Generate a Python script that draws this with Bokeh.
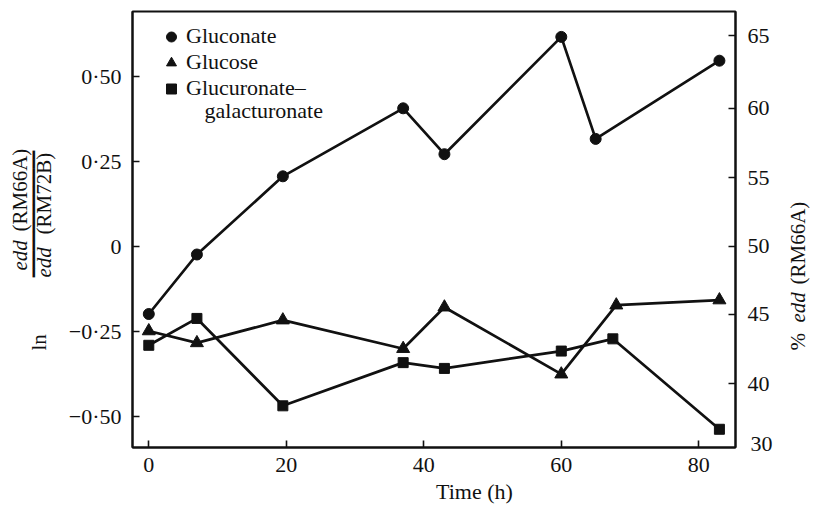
import math
from bokeh.plotting import figure
from bokeh.layouts import row
from bokeh.models import Range1d, LinearAxis, FixedTicker, Label, Legend, LegendItem
from bokeh.embed import file_html
from bokeh.resources import INLINE

# ---------------- data ----------------
time_gluconate = [0, 7, 19.5, 37, 43, 60, 65, 83]
ln_gluconate = [-0.20, -0.025, 0.205, 0.405, 0.27, 0.615, 0.315, 0.545]

time_glucose = [0, 7, 19.5, 37, 43, 60, 68, 83]
ln_glucose = [-0.25, -0.285, -0.218, -0.302, -0.18, -0.377, -0.174, -0.159]

time_glucuronate = [0, 7, 19.5, 37, 43, 60, 67.5, 83]
ln_glucuronate = [-0.292, -0.213, -0.47, -0.343, -0.36, -0.309, -0.273, -0.539]

x_ticks = [0, 20, 40, 60, 80]
y_ticks = [-0.5, -0.25, 0, 0.25, 0.5]
y_tick_labels = ["\u22120\u00b750", "\u22120\u00b725", "0", "0\u00b725", "0\u00b750"]
pct_ticks = [40, 45, 50, 55, 60, 65]
series_names = ["Gluconate", "Glucose", "Glucuronate\u2013"]

# ---------------- layout constants ----------------
FONT = "Liberation Serif"
INK = "#111111"
FS = "22px"
H = 512
LEFT_W, MAIN_W, RIGHT_W = 60, 720, 34

X_START, X_END = -2.37, 85.34
Y_START, Y_END = -0.5926, 0.6897
FR_L, FR_R, FR_T, FR_B = 132.0, 735.0, 11.0, 447.0

# page-pixel -> main-frame data helpers (annotation placement only)
def X(px):
    return X_START + (px - FR_L) * (X_END - X_START) / (FR_R - FR_L)

def Y(py):
    return Y_END - (py - FR_T) * (Y_END - Y_START) / (FR_B - FR_T)

p = figure(width=MAIN_W, height=H, output_backend="svg", toolbar_location=None,
           x_range=Range1d(X_START, X_END), y_range=Range1d(Y_START, Y_END),
           min_border_left=int(FR_L - LEFT_W), min_border_right=int(LEFT_W + MAIN_W - FR_R),
           min_border_top=int(FR_T), min_border_bottom=int(H - FR_B),
           background_fill_color="white", border_fill_color="white")
p.xgrid.visible = False
p.ygrid.visible = False
p.outline_line_color = INK
p.outline_line_width = 2

def style_axis(ax, standoff):
    ax.major_tick_in = 7
    ax.major_tick_out = 0
    ax.minor_tick_in = 0
    ax.minor_tick_out = 0
    ax.axis_line_color = INK
    ax.axis_line_width = 2
    ax.major_tick_line_color = INK
    ax.major_tick_line_width = 1.6
    ax.major_label_text_font = FONT
    ax.major_label_text_font_size = FS
    ax.major_label_text_color = INK
    ax.major_label_standoff = standoff

xa = p.xaxis[0]
xa.ticker = FixedTicker(ticks=x_ticks)
style_axis(xa, 10)

ya = p.yaxis[0]
ya.ticker = FixedTicker(ticks=y_ticks)
ya.major_label_overrides = {t: l for t, l in zip(y_ticks, y_tick_labels)}
style_axis(ya, 11)

# right axis: % edd on the logit scale of the same ratio
pct_pos = [math.log(v / (100 - v)) for v in pct_ticks]
ra = LinearAxis(ticker=FixedTicker(ticks=pct_pos))
ra.major_label_overrides = {t: str(v) for t, v in zip(pct_pos, pct_ticks)}
style_axis(ra, 12)
p.add_layout(ra, "right")

def text_axis(pos, text, standoff, side):
    ax = LinearAxis(ticker=FixedTicker(ticks=[pos]))
    ax.major_label_overrides = {pos: text}
    style_axis(ax, standoff)
    ax.axis_line_color = None
    ax.major_tick_line_color = None
    p.add_layout(ax, side)
    return ax

# lone "30" printed at the foot of the right scale
text_axis(Y(443.5), "30", -22, "right")
# x axis title
text_axis(X(474), "Time (h)", 4, "below")

# ---------------- series ----------------
LW = 2.7
p.line(time_gluconate, ln_gluconate, line_color=INK, line_width=LW)
r1 = p.scatter(time_gluconate, ln_gluconate, marker="circle", size=11, fill_color=INK, line_color=INK)
p.line(time_glucose, ln_glucose, line_color=INK, line_width=LW)
r2 = p.scatter(time_glucose, ln_glucose, marker="triangle", size=13, fill_color=INK, line_color=INK)
p.line(time_glucuronate, ln_glucuronate, line_color=INK, line_width=LW)
r3 = p.scatter(time_glucuronate, ln_glucuronate, marker="square", size=10, fill_color=INK, line_color=INK)

legend = Legend(items=[LegendItem(label=series_names[0], renderers=[r1]),
                       LegendItem(label=series_names[1], renderers=[r2]),
                       LegendItem(label=series_names[2], renderers=[r3])],
                location=(24, 346), margin=0, padding=0, spacing=0,
                glyph_width=30, glyph_height=25, label_height=25, label_standoff=0,
                label_text_font=FONT, label_text_font_size=FS, label_text_color=INK,
                border_line_color=None, background_fill_alpha=0)
p.add_layout(legend)

def lab(fig, x, y, text, angle=0.0, align="left", baseline="middle", style="normal",
        font=FONT, size=FS):
    fig.add_layout(Label(x=x, y=y, text=text, angle=angle, text_align=align,
                         text_baseline=baseline, text_font=font, text_font_size=size,
                         text_font_style=style, text_color=INK))

lab(p, X(204), Y(110), "galacturonate")

# ---------------- side panels for the rotated axis titles ----------------
# their frames are aligned with the main frame (page y 11..447), so the
# ranges are set in page pixels of that band
def side_fig(x0, w):
    f = figure(width=w, height=H, output_backend="svg", toolbar_location=None,
               x_range=Range1d(x0, x0 + w), y_range=Range1d(FR_B, FR_T),
               x_axis_type=None, y_axis_type=None, min_border=0,
               background_fill_color="white", border_fill_color="white")
    f.outline_line_color = None
    return f

R = math.pi / 2
lf = side_fig(0, LEFT_W)
lab(lf, 38.5, 350, "ln", angle=R, size="21px")
lab(lf, 19, 270, "edd", angle=R, style="italic", size="21px")
lab(lf, 19, 231, "(RM66A)", angle=R, size="21px")
lab(lf, 43.5, 277, "edd", angle=R, style="italic", size="21px")
lab(lf, 43.5, 234, "(RM72B)", angle=R, size="21px")
lab(lf, 33, 213.5, "\u2501" * 14, angle=R, align="center",
    font="DejaVu Sans Mono", size="15px")

rf = side_fig(LEFT_W + MAIN_W, RIGHT_W)
lab(rf, 797.5, 350, "%", angle=R, size="21px")
lab(rf, 797.5, 322, "edd", angle=R, style="italic", size="21px")
lab(rf, 797.5, 284, "(RM66A)", angle=R, size="21px")

layout = row(lf, p, rf, spacing=0)
open("out.html", "w").write(file_html(layout, INLINE))
